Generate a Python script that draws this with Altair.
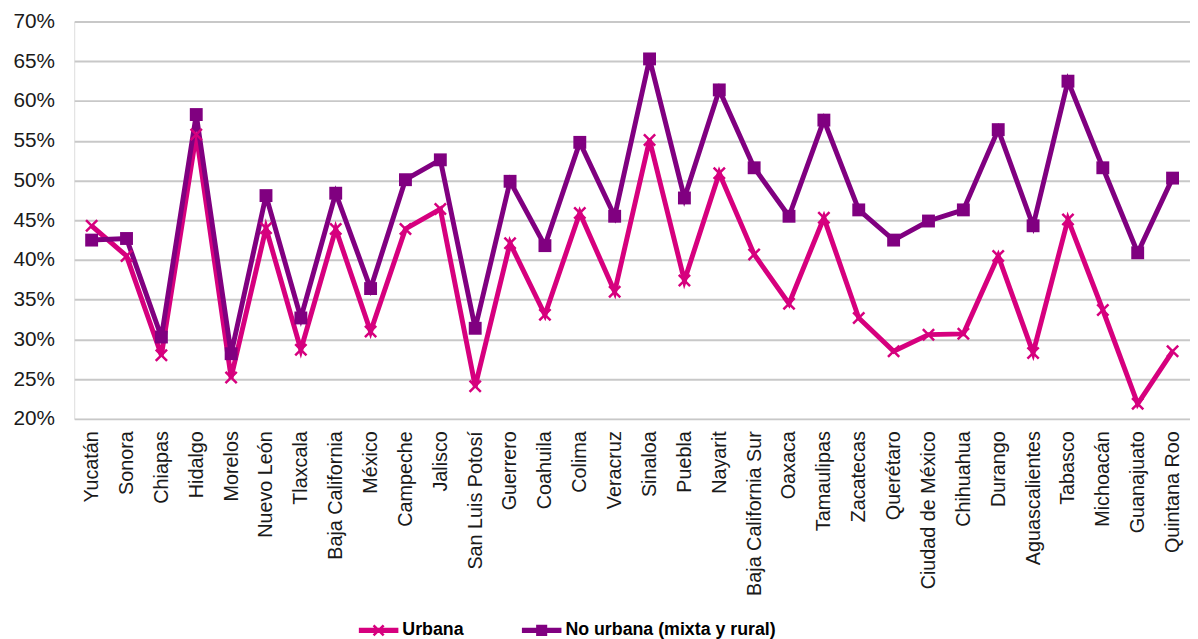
import altair as alt
import pandas as pd

states = ["Yucatán", "Sonora", "Chiapas", "Hidalgo", "Morelos", "Nuevo León", "Tlaxcala",
          "Baja California", "México", "Campeche", "Jalisco", "San Luis Potosí", "Guerrero",
          "Coahuila", "Colima", "Veracruz", "Sinaloa", "Puebla", "Nayarit", "Baja California Sur",
          "Oaxaca", "Tamaulipas", "Zacatecas", "Querétaro", "Ciudad de México", "Chihuahua",
          "Durango", "Aguascalientes", "Tabasco", "Michoacán", "Guanajuato", "Quintana Roo"]
urbana = [44.3, 40.5, 28.0, 55.8, 25.2, 44.0, 28.7, 43.9, 31.0, 43.9, 46.4, 24.1, 42.1, 33.1,
          45.9, 36.0, 55.1, 37.4, 50.9, 40.7, 34.5, 45.3, 32.7, 28.5, 30.6, 30.7, 40.5, 28.3,
          45.1, 33.7, 21.9, 28.5]
no_urbana = [42.5, 42.7, 30.3, 58.3, 28.2, 48.1, 32.7, 48.4, 36.4, 50.1, 52.6, 31.4, 49.9, 41.8,
             54.8, 45.5, 65.3, 47.8, 61.4, 51.6, 45.5, 57.6, 46.3, 42.5, 44.9, 46.3, 56.4, 44.3,
             62.5, 51.6, 40.9, 50.3]
series_names = ["Urbana", "No urbana (mixta y rural)"]
colors = ["#d6007e", "#800080"]

rows = []
for s, u, n in zip(states, urbana, no_urbana):
    rows.append({"estado": s, "serie": series_names[0], "valor": u / 100})
    rows.append({"estado": s, "serie": series_names[1], "valor": n / 100})
df = pd.DataFrame(rows)

FONT = "Liberation Sans"

x = alt.X("estado:N", sort=states, title=None,
          scale=alt.Scale(type="point", padding=0.5),
          axis=alt.Axis(labelAngle=-90, labelFontSize=20, labelFont=FONT, labelColor="#1a1a1a",
                        ticks=False, tickSize=0, labelPadding=12, domain=False, grid=False,
                        labelOverlap=False))
y = alt.Y("valor:Q", title=None,
          scale=alt.Scale(domain=[0.2, 0.7], nice=False, zero=False),
          axis=alt.Axis(format=".0%", values=[0.2, 0.25, 0.3, 0.35, 0.4, 0.45, 0.5, 0.55, 0.6, 0.65, 0.7],
                        labelFontSize=21, labelFont=FONT, labelColor="#1a1a1a", ticks=False,
                        tickSize=0, labelPadding=20, domain=False, grid=True,
                        gridColor="#c8c8c8", gridWidth=2))

base = alt.Chart(df)

line_u = base.transform_filter(alt.datum.serie == series_names[0]).mark_line(
    color=colors[0], strokeWidth=5).encode(x=x, y=y)
pts_u = base.transform_filter(alt.datum.serie == series_names[0]).mark_point(
    shape="M-1,-1L1,1M-1,1L1,-1", color=colors[0], filled=False, strokeWidth=2.5,
    size=130, opacity=1).encode(x=x, y=y)
line_n = base.transform_filter(alt.datum.serie == series_names[1]).mark_line(
    color=colors[1], strokeWidth=5).encode(x=x, y=y)
pts_n = base.transform_filter(alt.datum.serie == series_names[1]).mark_point(
    shape="square", color=colors[1], filled=True, size=170, opacity=1).encode(x=x, y=y)

# legend symbols: line segment with the series marker (filled paths)
leg_u = ("M-1,-0.13H1V0.13H-1Z"
         "M-0.3,-0.21L-0.21,-0.3L0.3,0.21L0.21,0.3Z"
         "M0.21,-0.3L0.3,-0.21L-0.21,0.3L-0.3,0.21Z")
leg_n = ("M-1,-0.13H1V0.13H-1Z"
         "M-0.28,-0.28H0.28V0.28H-0.28Z")

# legend-only layer: no rows drawn, entries come from the explicit scale domain
legend_layer = base.transform_filter("false").mark_point(filled=True, opacity=1).encode(
    x=x, y=y,
    color=alt.Color("serie:N", scale=alt.Scale(domain=series_names, range=colors),
                    sort=series_names,
                    legend=alt.Legend(title=None, orient="none", direction="horizontal",
                                      legendX=288, legendY=596, padding=0,
                                      symbolSize=1600, symbolOpacity=1, symbolStrokeWidth=0,
                                      labelFont=FONT, labelFontSize=18, labelFontWeight="bold",
                                      labelColor="#000000", labelOffset=4, columnPadding=58,
                                      labelLimit=0)),
    shape=alt.Shape("serie:N", scale=alt.Scale(domain=series_names, range=[leg_u, leg_n]),
                    sort=series_names),
)

chart = alt.layer(line_u, line_n, pts_u, pts_n, legend_layer).properties(
    width=1129, height=402,
    autosize=alt.AutoSizeParams(type="none"),
    padding={"left": 67, "top": 10, "right": 0, "bottom": 219},
).configure_view(stroke=None).configure(background="white")

chart.save("out.html", embed_options={"renderer": "svg", "actions": False})
